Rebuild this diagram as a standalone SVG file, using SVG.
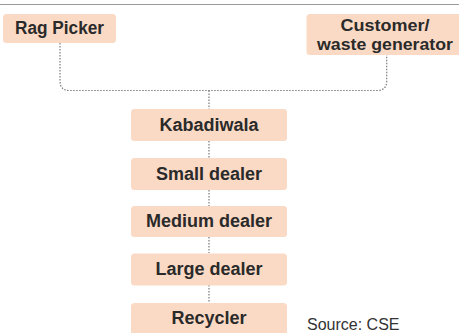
<svg xmlns="http://www.w3.org/2000/svg" width="459" height="333" viewBox="0 0 459 333">
  <style>
    .box { fill: #fbdac5; }
    .label { font-family: "Liberation Sans", Arial, sans-serif; font-weight: bold; font-size: 18px; fill: #2a2a2a; text-anchor: middle; }
    .two-line { font-size: 16.5px; }
    .link { fill: none; stroke: #7a7a7a; stroke-width: 1.2; stroke-dasharray: 1.5 1.5; }
    .note { font-family: "Liberation Sans", Arial, sans-serif; font-size: 16px; fill: #333333; }
  </style>
  <rect width="459" height="333" fill="#ffffff"/>
  <!-- rule across the top -->
  <line x1="0" y1="4.5" x2="459" y2="4.5" stroke="#9a9a9a" stroke-width="1.2"/>

  <g id="connectors">
    <path class="link" d="M60,43 V81 Q60,90.5 69.5,90.5 H377 Q386.7,90.5 386.7,81 V55"/>
    <path class="link" d="M209,90.5 V109"/>
    <path class="link" d="M209,141 V158"/>
    <path class="link" d="M209,190 V206"/>
    <path class="link" d="M209,237 V253"/>
    <path class="link" d="M209,285 V303"/>
  </g>

  <g id="rag-picker">
    <rect class="box" x="3" y="14" width="113" height="29" rx="3.5"/>
    <text class="label" x="59.5" y="34" textLength="89" lengthAdjust="spacingAndGlyphs">Rag Picker</text>
  </g>

  <g id="customer">
    <rect class="box" x="306.5" y="14" width="155" height="41" rx="3.5"/>
    <text class="label two-line" x="385" y="31.3" textLength="89" lengthAdjust="spacingAndGlyphs">Customer/</text>
    <text class="label two-line" x="385" y="49.5" textLength="136" lengthAdjust="spacingAndGlyphs">waste generator</text>
  </g>

  <g id="kabadiwala">
    <rect class="box" x="131" y="109" width="156" height="32" rx="3.5"/>
    <text class="label" x="209" y="131">Kabadiwala</text>
  </g>

  <g id="small-dealer">
    <rect class="box" x="131" y="158" width="156" height="32" rx="3.5"/>
    <text class="label" x="209" y="179.5">Small dealer</text>
  </g>

  <g id="medium-dealer">
    <rect class="box" x="131" y="206" width="156" height="31" rx="3.5"/>
    <text class="label" x="209" y="227">Medium dealer</text>
  </g>

  <g id="large-dealer">
    <rect class="box" x="131" y="253.5" width="156" height="32" rx="3.5"/>
    <text class="label" x="209" y="275">Large dealer</text>
  </g>

  <g id="recycler">
    <rect class="box" x="131" y="303" width="156" height="34" rx="3.5"/>
    <text class="label" x="209" y="324">Recycler</text>
  </g>

  <text class="note" x="307" y="330">Source: CSE</text>
</svg>
